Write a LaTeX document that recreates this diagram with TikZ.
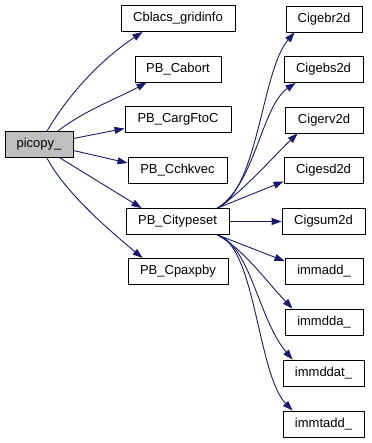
\documentclass[tikz,border=0pt]{standalone}
\usepackage{fontspec}
\setmainfont{Liberation Sans}
\usetikzlibrary{arrows.meta}
\definecolor{edgeblue}{HTML}{191970}

\begin{document}
\begin{tikzpicture}[x=1pt, y=-1pt,
  every node/.style={rectangle, draw=black, line width=0.9pt, minimum height=26pt,
    inner sep=0pt, font=\fontsize{13}{15}\selectfont},
  call/.style={draw=edgeblue, line width=0.9pt, -{Triangle[length=10pt,width=7pt]}}]
  \useasboundingbox (0,0) rectangle (371,443);

  \node[fill=black!25, minimum width=68pt] (picopy) at (39,144.5) {picopy\_};

  \node[minimum width=114pt] (gridinfo) at (178,18.5) {Cblacs\_gridinfo};
  \node[minimum width=86pt] (cabort) at (178,69) {PB\_Cabort};
  \node[minimum width=106pt] (cargftoc) at (178,119.5) {PB\_CargFtoC};
  \node[minimum width=99pt] (cchkvec) at (177.5,170) {PB\_Cchkvec};
  \node[minimum width=103pt] (citypeset) at (177.5,221.5) {PB\_Citypeset};
  \node[minimum width=100pt] (cpaxpby) at (178,271.5) {PB\_Cpaxpby};

  \node[minimum width=76pt] (gebr2d) at (324,19) {Cigebr2d};
  \node[minimum width=79pt] (gebs2d) at (323.5,69.5) {Cigebs2d};
  \node[minimum width=78pt] (gerv2d) at (324,120) {Cigerv2d};
  \node[minimum width=79pt] (gesd2d) at (323.5,170) {Cigesd2d};
  \node[minimum width=83pt] (gsum2d) at (323.5,221.5) {Cigsum2d};
  \node[minimum width=78pt] (immadd) at (324,271.5) {immadd\_};
  \node[minimum width=78pt] (immdda) at (324,322) {immdda\_};
  \node[minimum width=81pt] (immddat) at (323.5,373) {immddat\_};
  \node[minimum width=81pt] (immtadd) at (323.5,424) {immtadd\_};

  % calls made by picopy_
  \draw[call] ([xshift=8pt]picopy.north) .. controls +(28,-47) and +(-33,22) .. ([xshift=22pt]gridinfo.south west);
  \draw[call] ([xshift=19pt]picopy.north) .. controls +(25,-20) and +(-25,14) .. ([xshift=12pt]cabort.south west);
  \draw[call] ([yshift=6pt]picopy.east) -- ([yshift=-9pt]cargftoc.west);
  \draw[call] ([yshift=-6pt]picopy.east) -- ([yshift=7pt]cchkvec.west);
  \draw[call] ([xshift=21pt]picopy.south) -- ([xshift=16pt]citypeset.north west);
  \draw[call] ([xshift=8pt]picopy.south) .. controls +(18,35) and +(-30,-25) .. ([xshift=15pt]cpaxpby.north west);

  % calls made by PB_Citypeset
  \draw[call] ([xshift=-12pt]citypeset.north east) .. controls +(41,-19) and +(-33,38) .. ([xshift=9pt]gebr2d.south west);
  \draw[call] ([xshift=-12pt]citypeset.north east) .. controls +(38,-24) and +(-34,23) .. ([xshift=12pt]gebs2d.south west);
  \draw[call] ([xshift=-12pt]citypeset.north east) .. controls +(23,-14) and +(-23,22) .. ([xshift=13pt]gerv2d.south west);
  \draw[call] ([xshift=-12pt]citypeset.north east) -- ([yshift=2pt]gesd2d.south west);
  \draw[call] (citypeset.east) -- (gsum2d.west);
  \draw[call] ([xshift=-12pt]citypeset.south east) -- ([yshift=-3pt]immadd.north west);
  \draw[call] ([xshift=-12pt]citypeset.south east) .. controls +(28,16) and +(-28,-29) .. ([xshift=8pt]immdda.north west);
  \draw[call] ([xshift=-12pt]citypeset.south east) .. controls +(33,11) and +(-34,-40) .. ([xshift=10pt]immddat.north west);
  \draw[call] ([xshift=-12pt]citypeset.south east) .. controls +(38,11) and +(-35,-36) .. ([xshift=10pt]immtadd.north west);
\end{tikzpicture}
\end{document}
